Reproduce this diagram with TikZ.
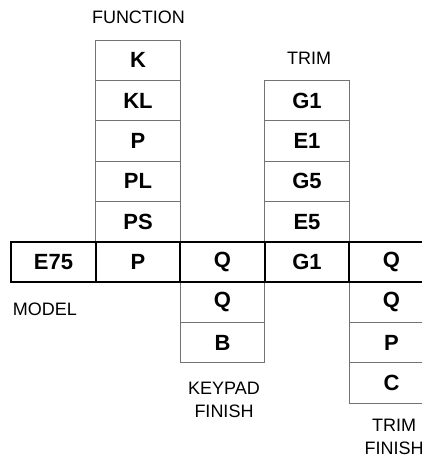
\documentclass[tikz,border=0pt]{standalone}
\usepackage{fontspec}
\setmainfont{Liberation Sans}
\usetikzlibrary{positioning,backgrounds}

\begin{document}
\begin{tikzpicture}[x=1pt,y=-1pt,
  cell/.style={draw=black!55,line width=1pt,outer sep=0pt,inner sep=0pt,
    minimum width=84.5pt,minimum height=40.4pt,
    font=\fontsize{22}{26}\selectfont\bfseries},
  key/.style={cell,draw=black,line width=2.4pt,minimum height=40pt},
  caption/.style={align=center,font=\fontsize{18}{23}\selectfont}]
\useasboundingbox (0,0) rectangle (422,458);
\clip (0,0) rectangle (422,458);

% main row
\node[key] (model) at (53.5,262) {E75};
\node[key,right=0pt of model] (func) {P};
\node[key,right=0pt of func] (keypad) {Q};
\node[key,right=0pt of keypad] (trim) {G1};
\node[key,right=0pt of trim] (trimfin) {Q};

\begin{scope}[on background layer]
% function
\node[cell,above=0pt of func] (func5) {PS};
\node[cell,above=0pt of func5] (func4) {PL};
\node[cell,above=0pt of func4] (func3) {P};
\node[cell,above=0pt of func3] (func2) {KL};
\node[cell,above=0pt of func2] (func1) {K};
% trim
\node[cell,above=0pt of trim] (trim4) {E5};
\node[cell,above=0pt of trim4] (trim3) {G5};
\node[cell,above=0pt of trim3] (trim2) {E1};
\node[cell,above=0pt of trim2] (trim1) {G1};
% keypad finish
\node[cell,below=0pt of keypad] (keypad1) {Q};
\node[cell,below=0pt of keypad1] (keypad2) {B};
% trim finish
\node[cell,below=0pt of trimfin] (trimfin1) {Q};
\node[cell,below=0pt of trimfin1] (trimfin2) {P};
\node[cell,below=0pt of trimfin2] (trimfin3) {C};
\end{scope}

% captions
\node[caption] (lfunc) at (138.5,17) {FUNCTION};
\node[caption] (ltrim) at (309,58) {TRIM};
\node[caption] (lmodel) at (45,309.5) {MODEL};
\node[caption] (lkeypad) at (224,399.5) {KEYPAD\\FINISH};
\node[caption] (ltrimfin) at (394,437) {TRIM\\FINISH};
\end{tikzpicture}
\end{document}
